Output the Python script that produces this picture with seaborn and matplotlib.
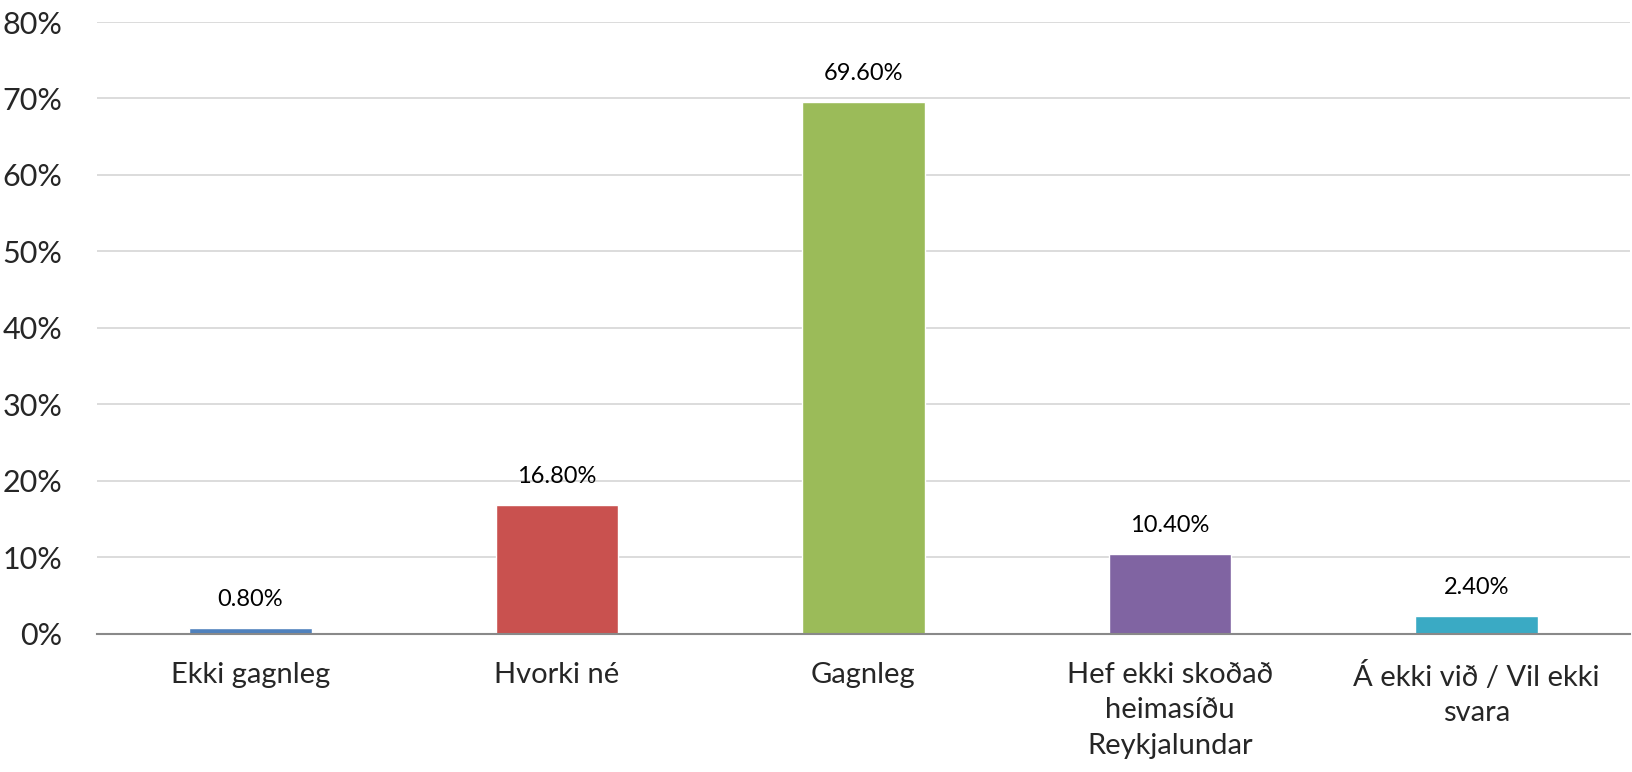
import numpy as np
import pandas as pd
import matplotlib
matplotlib.use("Agg")
import matplotlib.pyplot as plt
import seaborn as sns
from matplotlib.ticker import PercentFormatter

categories = ["Ekki gagnleg", "Hvorki né", "Gagnleg",
              "Hef ekki skoðað\nheimasíðu\nReykjalundar",
              "Á ekki við / Vil ekki\nsvara"]
values = [0.80, 16.80, 69.60, 10.40, 2.40]
colors = ["#4F81BD", "#C9514F", "#9BBB59", "#8064A2", "#3AAAC4"]

sns.set_style("white")
plt.rcParams['font.family'] = ['Lato', 'DejaVu Sans']

df = pd.DataFrame({"cat": categories, "val": values})

fig = plt.figure(figsize=(16.33, 7.72), dpi=100)
ax = fig.add_axes([0.0594, 0.1788, 0.9386, 0.7927])

sns.barplot(data=df, x="cat", y="val", hue="cat", palette=colors,
            saturation=1, legend=False, width=0.4, ax=ax, zorder=3)

for i, v in enumerate(values):
    ax.annotate(f"{v:.2f}%", (i, v), xytext=(0, 13), textcoords="offset points",
                ha="center", va="bottom", fontsize=17, color="#000000")

ax.set_ylim(0, 80)
ax.set_yticks(np.arange(0, 81, 10))
ax.yaxis.set_major_formatter(PercentFormatter(decimals=0))
ax.set_xlim(-0.5, 4.5)
ax.grid(axis="y", color="#D9D9D9", linewidth=1.3, zorder=0)
ax.set_axisbelow(True)
for s in ["top", "right", "left"]:
    ax.spines[s].set_visible(False)
ax.spines["bottom"].set_color("#898989")
ax.spines["bottom"].set_linewidth(1.5)
ax.spines["bottom"].set_zorder(4)
ax.set_xlabel("")
ax.set_ylabel("")
ax.tick_params(axis="y", length=0, labelsize=22, pad=25)
ax.tick_params(axis="x", length=0, labelsize=21, pad=20)
for lab in ax.get_xticklabels():
    lab.set_linespacing(1.45)

fig.savefig("out.png", dpi=100)
